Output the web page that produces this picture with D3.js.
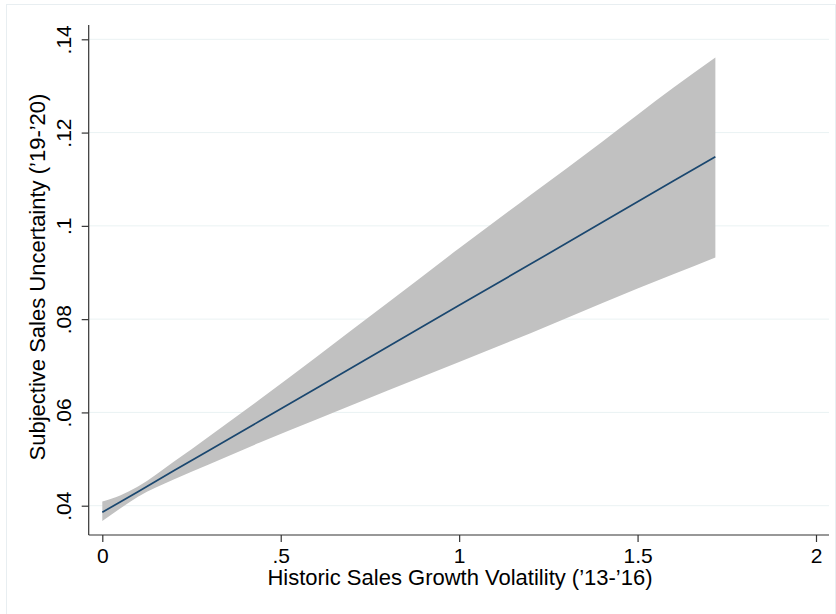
<!DOCTYPE html>
<html>
<head>
<meta charset="utf-8">
<script src="https://cdn.jsdelivr.net/npm/d3@7"></script>
<style>
  html, body { margin: 0; padding: 0; background: #fff; }
  svg { display: block; font-family: "Liberation Sans", Arial, sans-serif; }
</style>
</head>
<body>
<svg id="chart" width="836" height="614"></svg>
<script>
// Data
const xValues   = [0, 0.05, 0.1, 0.2, 0.3, 0.44, 0.6, 0.8, 1.0, 1.2, 1.4, 1.6, 1.718];
const fitValues = [0.0386, 0.0408, 0.0430, 0.0475, 0.0519, 0.0581, 0.0652, 0.0741, 0.0830, 0.0918, 0.1007, 0.1096, 0.1148];
const upperCI   = [0.0409, 0.0422, 0.0441, 0.0494, 0.0549, 0.0627, 0.0719, 0.0835, 0.0952, 0.1066, 0.1180, 0.1296, 0.1361];
const lowerCI   = [0.0367, 0.0394, 0.0419, 0.0456, 0.0489, 0.0535, 0.0585, 0.0647, 0.0708, 0.0770, 0.0834, 0.0896, 0.0932];
const xTicks = [0, 0.5, 1, 1.5, 2];
const xTickLabels = ["0", ".5", "1", "1.5", "2"];
const yTicks = [0.04, 0.06, 0.08, 0.10, 0.12, 0.14];
const yTickLabels = [".04", ".06", ".08", ".1", ".12", ".14"];
const xTitle = "Historic Sales Growth Volatility (\u201913-\u201916)";
const yTitle = "Subjective Sales Uncertainty (\u201919-\u201920)";

const svg = d3.select("#chart");

// outer graph-region frame
svg.append("rect")
  .attr("x", 6.5).attr("y", 4.5)
  .attr("width", 829).attr("height", 612)
  .attr("fill", "#fff").attr("stroke", "#e8eef1").attr("stroke-width", 1);

const plotLeft = 88.7, plotRight = 829, plotTop = 25, plotBottom = 535;

const x = d3.scaleLinear().domain([0, 2]).range([102.3, 816]);
const y = d3.scaleLinear().domain([0.04, 0.14]).range([505.7, 39.3]);

// gridlines
svg.append("g").selectAll("line").data(yTicks).join("line")
  .attr("x1", plotLeft).attr("x2", plotRight)
  .attr("y1", d => y(d)).attr("y2", d => y(d))
  .attr("stroke", "#eaf2f3").attr("stroke-width", 1);

const rows = xValues.map((v, i) => ({x: v, fit: fitValues[i], lo: lowerCI[i], hi: upperCI[i]}));

// CI band
svg.append("path").datum(rows)
  .attr("d", d3.area().x(d => x(d.x)).y0(d => y(d.lo)).y1(d => y(d.hi)).curve(d3.curveMonotoneX))
  .attr("fill", "#c1c1c1");

// fitted line
svg.append("path").datum(rows)
  .attr("d", d3.line().x(d => x(d.x)).y(d => y(d.fit)))
  .attr("fill", "none").attr("stroke", "#1a476f").attr("stroke-width", 1.7);

// x axis
const xAxis = d3.axisBottom(x).tickValues(xTicks)
  .tickFormat((d, i) => xTickLabels[i]).tickSize(7).tickPadding(6);
const gx = svg.append("g").attr("transform", `translate(0,${plotBottom})`).call(xAxis);
gx.select(".domain").remove();
gx.append("line").attr("x1", plotLeft).attr("x2", plotRight).attr("y1", 0).attr("y2", 0)
  .attr("stroke", "#333").attr("stroke-width", 1.2);
gx.selectAll(".tick line").attr("stroke", "#333").attr("stroke-width", 1.2);
gx.selectAll(".tick text").attr("fill", "#000").attr("font-size", 21)
  .attr("font-family", "Liberation Sans, Arial, sans-serif");

// y axis
const yAxis = d3.axisLeft(y).tickValues(yTicks)
  .tickFormat((d, i) => yTickLabels[i]).tickSize(7).tickPadding(0);
const gy = svg.append("g").attr("transform", `translate(${plotLeft},0)`).call(yAxis);
gy.select(".domain").remove();
gy.append("line").attr("x1", 0).attr("x2", 0).attr("y1", plotTop).attr("y2", plotBottom)
  .attr("stroke", "#333").attr("stroke-width", 1.2);
gy.selectAll(".tick line").attr("stroke", "#333").attr("stroke-width", 1.2);
gy.selectAll(".tick text")
  .attr("fill", "#000").attr("font-size", 21)
  .attr("font-family", "Liberation Sans, Arial, sans-serif")
  .attr("x", null).attr("dy", null)
  .attr("text-anchor", "middle")
  .attr("transform", "translate(-17.5,0) rotate(-90)");

// axis titles
svg.append("text")
  .attr("x", 460).attr("y", 585)
  .attr("text-anchor", "middle").attr("font-size", 22).attr("fill", "#000")
  .text(xTitle);

svg.append("text")
  .attr("transform", `translate(45,277) rotate(-90)`)
  .attr("text-anchor", "middle").attr("font-size", 22).attr("fill", "#000")
  .text(yTitle);
</script>
</body>
</html>
